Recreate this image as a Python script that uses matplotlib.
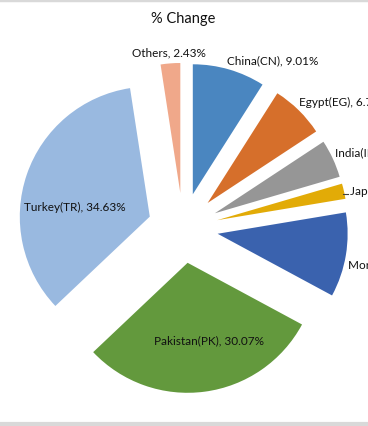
import matplotlib
matplotlib.use("Agg")
import matplotlib.pyplot as plt
import numpy as np

# slice data, clockwise from 12 o'clock
labels = ["China(CN)", "Egypt(EG)", "India(IN)", "Japan(JP)", "Morocco(MA)",
          "Pakistan(PK)", "Turkey(TR)", "Others"]
values = [9.01, 6.72, 4.74, 1.90, 10.50, 30.07, 34.63, 2.43]
colors = ["#4a86c0", "#d66f2b", "#969696", "#e2ab07", "#3a62ae",
          "#63993d", "#99b9e0", "#f0a88a"]
inside = ["Pakistan(PK)", "Turkey(TR)"]

W, H = 368, 427
fig = plt.figure(figsize=(W / 100, H / 100), dpi=100)
plt.rcParams['font.family'] = ['Lato', 'DejaVu Sans']

# pie centre at (183, 229) px, radius 130 px
R = 130.0
cx, cy = 183, 229
ax = fig.add_axes([0, 0, 1, 1])
explode_amt = 0.27
wedges, _ = ax.pie(values, colors=colors, startangle=90, counterclock=False,
                   explode=[explode_amt] * len(values),
                   wedgeprops=dict(linewidth=0))
ax.set_xlim(-cx / R, (W - cx) / R)
ax.set_ylim(-(H - cy) / R, cy / R)
ax.axis('off')

tcol = '#111111'
for w, lab, v in zip(wedges, labels, values):
    mid = np.deg2rad((w.theta1 + w.theta2) / 2)
    ux, uy = np.cos(mid), np.sin(mid)
    txt = f"{lab}, {v:.2f}%"
    if lab in inside:
        r = explode_amt + 0.62
        if ux < 0:
            ax.text(r * ux + 0.01, r * uy - 0.12, txt, ha='center',
                    va='center', fontsize=8.5, color=tcol)
        else:
            ax.text(r * ux + 0.08, r * uy + 0.02, txt, ha='center',
                    va='center', fontsize=8.5, color=tcol)
    elif v < 2:
        # small slice: short leader line to the label
        r0 = 1 + explode_amt
        x0, y0 = r0 * ux, r0 * uy
        ax.plot([x0 - 0.01, x0 + 0.035], [y0 - 0.02, y0 - 0.02],
                color='#404040', lw=0.8)
        ax.text(x0 + 0.05, y0 + 0.005, txt, ha='left', va='center',
                fontsize=8.5, color=tcol)
    else:
        r = 1 + explode_amt + 0.05
        x, y = r * ux, r * uy
        if abs(ux) < 0.2:
            ax.text(x - 0.01, y + 0.04, txt, ha='center', va='center',
                    fontsize=8.5, color=tcol)
        else:
            ax.text(x - 0.03, y + (0.03 if uy > 0 else -0.06), txt,
                    ha='left', va='center', fontsize=8.5, color=tcol)

fig.text(183 / W, 1 - 19 / H, "% Change", ha='center', va='center',
         fontsize=10.5, color=tcol)

# light frame lines at top and bottom
fig.add_artist(plt.Line2D([0, 1], [1 - 1 / H, 1 - 1 / H], color='#d9d9d9', lw=2.5))
fig.add_artist(plt.Line2D([0, 1], [2 / H, 2 / H], color='#d9d9d9', lw=3))

fig.savefig("out.png", dpi=100)
